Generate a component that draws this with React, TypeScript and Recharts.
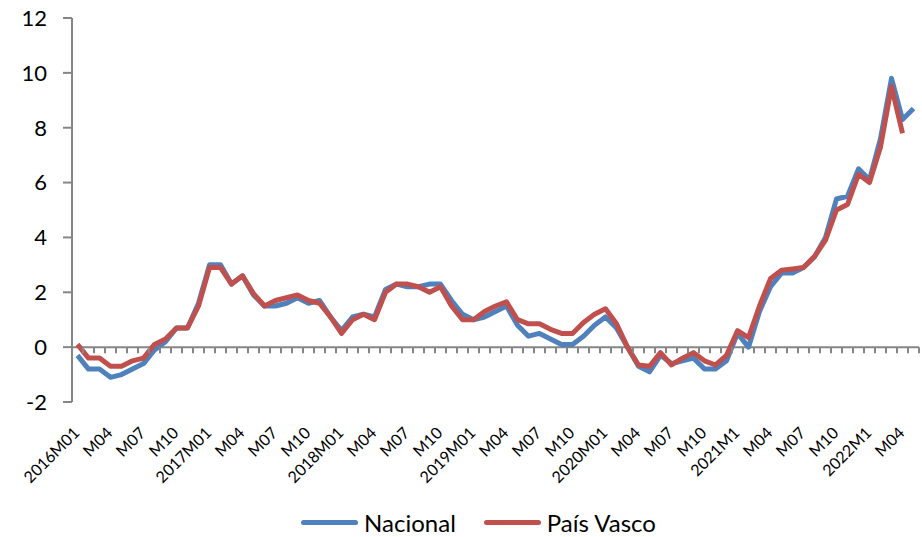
import { LineChart, Line, XAxis, YAxis, ReferenceLine, Legend } from "recharts"

const years = [2016, 2017, 2018, 2019, 2020, 2021, 2022]

// IPC interanual (%), enero 2016 - mayo 2022
const nacional = [
  -0.3, -0.8, -0.8, -1.1, -1.0, -0.8, -0.6, -0.1, 0.2, 0.7, 0.7, 1.6,
  3.0, 3.0, 2.3, 2.6, 1.9, 1.5, 1.5, 1.6, 1.8, 1.6, 1.7, 1.1,
  0.6, 1.1, 1.2, 1.1, 2.1, 2.3, 2.2, 2.2, 2.3, 2.3, 1.7, 1.2,
  1.0, 1.1, 1.3, 1.5, 0.8, 0.4, 0.5, 0.3, 0.1, 0.1, 0.4, 0.8,
  1.1, 0.7, 0.0, -0.7, -0.9, -0.3, -0.6, -0.5, -0.4, -0.8, -0.8, -0.5,
  0.5, 0.0, 1.3, 2.2, 2.7, 2.7, 2.9, 3.3, 4.0, 5.4, 5.5, 6.5,
  6.1, 7.6, 9.8, 8.3, 8.7,
]

const paisVasco = [
  0.1, -0.4, -0.4, -0.7, -0.7, -0.5, -0.4, 0.1, 0.3, 0.7, 0.7, 1.5,
  2.9, 2.9, 2.3, 2.6, 1.95, 1.5, 1.7, 1.8, 1.9, 1.7, 1.6, 1.1,
  0.5, 1.0, 1.2, 1.0, 2.0, 2.3, 2.3, 2.2, 2.0, 2.2, 1.5, 1.0,
  1.0, 1.3, 1.5, 1.65, 1.0, 0.85, 0.85, 0.65, 0.5, 0.5, 0.9, 1.2,
  1.4, 0.85, 0.0, -0.65, -0.7, -0.2, -0.65, -0.4, -0.2, -0.5, -0.65, -0.3,
  0.6, 0.35, 1.5, 2.5, 2.8, 2.85, 2.9, 3.3, 3.9, 5.0, 5.2, 6.3,
  6.0, 7.3, 9.5, 7.8,
]

// one label every three months
const tickLabels = [
  "2016M01", "M04", "M07", "M10",
  "2017M01", "M04", "M07", "M10",
  "2018M01", "M04", "M07", "M10",
  "2019M01", "M04", "M07", "M10",
  "2020M01", "M04", "M07", "M10",
  "2021M1", "M04", "M07", "M10",
  "2022M1", "M04",
]

const yTicks = [-2, 0, 2, 4, 6, 8, 10, 12]

const WIDTH = 922
const HEIGHT = 537
const MARGIN = { top: 18, right: 3, left: 0, bottom: 0 }
const Y_AXIS_W = 72
const X_AXIS_H = 105
const LEGEND_H = 30
const PLOT_H = HEIGHT - MARGIN.top - MARGIN.bottom - X_AXIS_H - LEGEND_H
const PLOT_W = WIDTH - MARGIN.left - MARGIN.right - Y_AXIS_W
const Y_MIN = -2
const Y_MAX = 12
const ZERO_Y = MARGIN.top + (PLOT_H * Y_MAX) / (Y_MAX - Y_MIN)

const AXIS = "#868686"
const FONT = "Lato, 'Liberation Sans', sans-serif"

const periods: string[] = []
for (const y of years) {
  for (let m = 1; m <= 12; m++) {
    if (periods.length < nacional.length) periods.push(`${y}-${String(m).padStart(2, "0")}`)
  }
}
const BAND = PLOT_W / periods.length

const chartData = periods.map((p, i) => ({
  period: p,
  Nacional: nacional[i],
  "País Vasco": paisVasco[i] ?? null,
}))

// labels at the bottom, small tick marks along the zero line
function PeriodTick(props: any) {
  const { x, y, index } = props
  const label = index % 3 === 0 ? tickLabels[index / 3] : null
  const last = index === periods.length - 1
  return (
    <g>
      <line x1={x - BAND / 2} x2={x - BAND / 2} y1={ZERO_Y} y2={ZERO_Y + 6} stroke={AXIS} strokeWidth={2} />
      {last && (
        <line x1={x + BAND / 2} x2={x + BAND / 2} y1={ZERO_Y} y2={ZERO_Y + 6} stroke={AXIS} strokeWidth={2} />
      )}
      {label && (
        <text
          x={x + 3}
          y={y + 24}
          transform={`rotate(-45 ${x + 3} ${y + 24})`}
          textAnchor="end"
          fontSize={16}
          fontFamily={FONT}
          fill="#000"
        >
          {label}
        </text>
      )}
    </g>
  )
}

function LegendContent({ payload }: any) {
  return (
    <div
      style={{
        height: LEGEND_H,
        display: "flex",
        justifyContent: "center",
        alignItems: "center",
        gap: 28,
        fontFamily: FONT,
        fontSize: 24,
        color: "#000",
        paddingLeft: 38,
      }}
    >
      {(payload ?? []).map((item: any) => (
        <div key={item.value} style={{ display: "flex", alignItems: "center", gap: 6 }}>
          <span style={{ width: 57, height: 5, borderRadius: 3, background: item.color, display: "inline-block" }} />
          <span>{item.value}</span>
        </div>
      ))}
    </div>
  )
}

export default function App() {
  return (
    <div style={{ position: "absolute", left: 0, top: 0, width: WIDTH, height: HEIGHT, background: "#fff" }}>
      <LineChart width={WIDTH} height={HEIGHT} data={chartData} margin={MARGIN}>
        <ReferenceLine y={0} stroke={AXIS} strokeWidth={2} />
        <XAxis
          dataKey="period"
          interval={0}
          height={X_AXIS_H}
          axisLine={false}
          tickLine={false}
          padding={{ left: BAND / 2, right: BAND / 2 }}
          tick={<PeriodTick />}
        />
        <YAxis
          width={Y_AXIS_W}
          domain={[Y_MIN, Y_MAX]}
          ticks={yTicks}
          interval={0}
          stroke={AXIS}
          strokeWidth={2}
          tickSize={9}
          tickMargin={16}
          tick={{ fill: "#000", fontSize: 22, fontFamily: FONT }}
        />
        <Legend verticalAlign="bottom" align="center" height={LEGEND_H} content={<LegendContent />} />
        <Line
          type="linear"
          dataKey="Nacional"
          stroke="#4F81BD"
          strokeWidth={5}
          strokeLinejoin="round"
          dot={false}
          isAnimationActive={false}
        />
        <Line
          type="linear"
          dataKey="País Vasco"
          stroke="#C0504D"
          strokeWidth={5}
          strokeLinejoin="round"
          dot={false}
          isAnimationActive={false}
        />
      </LineChart>
    </div>
  )
}
